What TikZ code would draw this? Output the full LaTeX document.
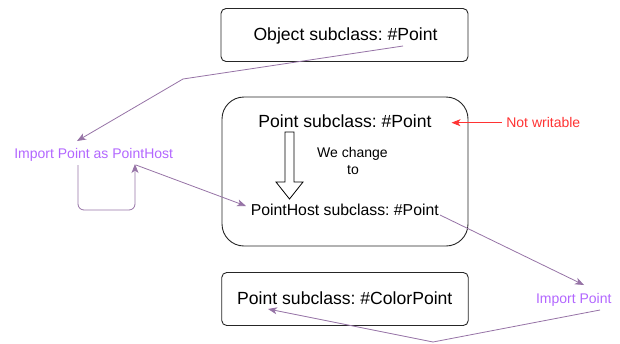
\documentclass[tikz,border=0pt]{standalone}
\usepackage{fontspec}
\setmainfont{Liberation Sans}
\usetikzlibrary{arrows.meta}
\definecolor{edgepurple}{HTML}{9673A6}
\definecolor{txtpurple}{HTML}{B266FF}
\definecolor{txtred}{HTML}{FF3333}
\begin{document}
\frenchspacing
\begin{tikzpicture}[x=1pt,y=-1pt,
  box/.style={draw=black!85,line width=0.9pt,fill=white,inner sep=0pt},
  lbl/.style={inner sep=0pt,anchor=base,font=\fontsize{17.6}{20}\selectfont},
  small/.style={inner sep=0pt,anchor=base,font=\fontsize{14}{16.5}\selectfont},
  conn/.style={draw=edgepurple,line width=0.8pt,line join=round},
  tip/.style={-{Stealth[length=9pt,width=7pt,inset=2.5pt]}}
]
\useasboundingbox (0,0) rectangle (620,343);
% boxes
\node[box,rounded corners=5pt,minimum width=247pt,minimum height=53pt] (topbox) at (344.5,35) {};
\node[box,rounded corners=22pt,minimum width=246pt,minimum height=149pt] (midbox) at (345,171.5) {};
\node[box,rounded corners=5pt,minimum width=246.5pt,minimum height=53pt] (botbox) at (345,299) {};
% texts
\node[lbl] (objtxt) at (345.5,40) {Object subclass: \#Point};
\node[lbl] (pointtxt) at (345,127.5) {Point subclass: \#Point};
\node[lbl,font=\fontsize{15.8}{19}\selectfont] (hosttxt) at (344.8,215.3) {PointHost subclass: \#Point};
\node[lbl] (colortxt) at (344.8,304.3) {Point subclass: \#ColorPoint};
\node[small] (we) at (352.5,157.7) {We change};
\node[small] (to) at (353,174) {to};
\node[small,text=txtred] (notw) at (543.3,127.3) {Not writable};
\node[small,text=txtpurple] (imp) at (93.7,158.3) {Import Point as PointHost};
\node[small,text=txtpurple] (imp2) at (573.8,303.3) {Import Point};
% block arrow
\draw[line width=0.8pt,fill=white,line join=miter]
  (285,132) -- (294,132) -- (294,182) -- (303,182) -- (289.5,199) -- (276,182) -- (285,182) -- cycle;
% red arrow
\coordinate (r1) at (501.5,122.7);
\coordinate (r2) at (451.5,122.7);
\draw[draw=txtred,line width=0.8pt,tip] (r1) -- (r2);
% connector coordinates
\coordinate (a1) at (403,46);
\coordinate (a2) at (183,79);
\coordinate (a3) at (77,141);
\coordinate (l1) at (78,165);
\coordinate (l2) at (78,210);
\coordinate (l3) at (135,210);
\coordinate (l4) at (135,164);
\coordinate (b1) at (136,165);
\coordinate (b2) at (246,206);
\coordinate (c1) at (440,215);
\coordinate (c2) at (584,285);
\coordinate (d1) at (600,310);
\coordinate (d2) at (433,342);
\coordinate (d3) at (268,309);
\draw[conn,tip] (a1) -- (a2) -- (a3);
\draw[conn,tip,rounded corners=6pt] (l1) -- (l2) -- (l3) -- (l4);
\draw[conn,tip] (b1) -- (b2);
\draw[conn,tip] (c1) -- (c2);
\draw[conn,tip] (d1) -- (d2) -- (d3);
\end{tikzpicture}
\end{document}
